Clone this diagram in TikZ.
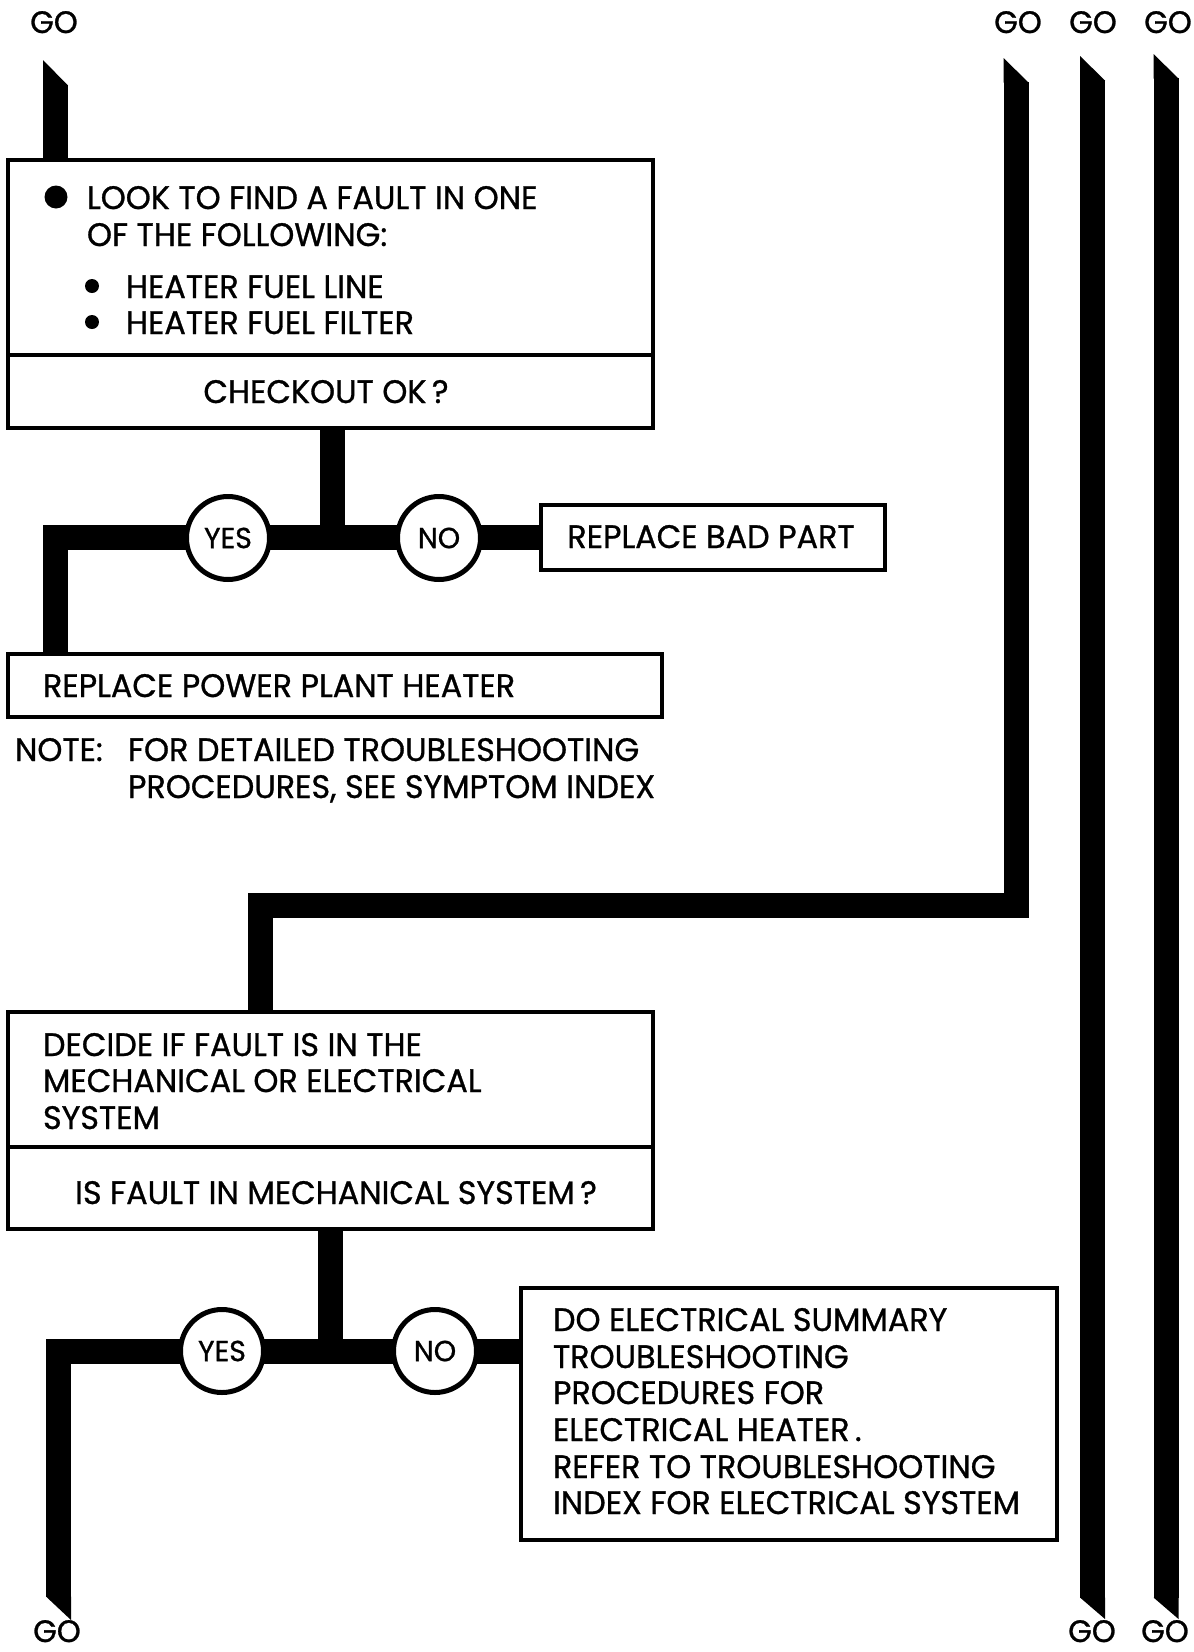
\documentclass[tikz,border=0pt]{standalone}
\usepackage{fontspec}
\setmainfont{Poppins}[FakeStretch=0.98, FakeBold=0.9]
\begin{document}
\begin{tikzpicture}[x=1pt,y=-1pt,
  every node/.style={inner sep=0pt, outer sep=0pt, font=\fontsize{32.5}{36}\selectfont},
  conn/.style={line width=25pt, line join=miter},
  box/.style={draw, line width=3.5pt, rectangle, fill=white},
  circ/.style={draw, circle, line width=5pt, fill=white, minimum size=83pt, font=\fontsize{29}{30}\selectfont},
  txt/.style={anchor=base west},
  golabel/.style={font=\fontsize{31}{32}\selectfont, anchor=base}]
\useasboundingbox (0,0) rectangle (1194,1652);

% GO labels
\node[golabel] (go1) at (54,33) {GO};
\node[golabel] (go2) at (1018,33) {GO};
\node[golabel] (go3) at (1093,33) {GO};
\node[golabel] (go4) at (1168,33) {GO};
\node[golabel] (go5) at (57,1642) {GO};
\node[golabel] (go6) at (1092,1642) {GO};
\node[golabel] (go7) at (1165,1642) {GO};

% boxes
\node[box, minimum width=645, minimum height=268] (b1) at (330.5,294) {};
\node[box, minimum width=344, minimum height=65] (bad) at (713,537.5) {};
\node[box, minimum width=654, minimum height=63] (rph) at (335,685.5) {};
\node[box, minimum width=645, minimum height=217] (b2) at (330.5,1120.5) {};
\node[box, minimum width=536, minimum height=252] (elec) at (789,1414) {};

% coordinates
\coordinate (g1) at (55.5,85);
\coordinate (j1) at (332,537.5);
\coordinate (c1) at (55,537.5);
\coordinate (g2) at (1016,82);
\coordinate (r1) at (1016,905);
\coordinate (r2) at (260,905);
\coordinate (j2) at (330,1351);
\coordinate (c2) at (58.5,1351);
\coordinate (e1) at (58.5,1597);
\coordinate (g3) at (1092.5,80);
\coordinate (e3) at (1092.5,1598);
\coordinate (g4) at (1166,78);
\coordinate (e4) at (1166,1598);

% connectors
\draw[conn] (g1) -- (g1 |- b1.north);
\fill (g1) ++(-12.5,0.5) -- ++(0,-25.5) -- ++(25,25.5) -- cycle;
\draw[conn] (b1.south -| j1) -- (j1);
\draw[conn] (c1 |- rph.north) -- (c1) -- (bad.west);

\draw[conn] (g2) -- (r1) -- (r2) -- (r2 |- b2.north);
\fill (g2) ++(-12.5,0.5) -- ++(0,-24.5) -- ++(25,24.5) -- cycle;

\draw[conn] (b2.south -| j2) -- (j2);
\draw[conn] (elec.west |- c2) -- (c2) -- (e1);
\fill (e1) ++(-12.5,-0.5) -- ++(25,0) -- ++(0,23.5) -- cycle;

\draw[conn] (g3) -- (e3);
\fill (g3) ++(-12.5,0.5) -- ++(0,-24.5) -- ++(25,24.5) -- cycle;
\fill (e3) ++(-12.5,-0.5) -- ++(25,0) -- ++(0,21.5) -- cycle;
\draw[conn] (g4) -- (e4);
\fill (g4) ++(-12.5,0.5) -- ++(0,-24.5) -- ++(25,24.5) -- cycle;
\fill (e4) ++(-12.5,-0.5) -- ++(25,0) -- ++(0,21.5) -- cycle;

% redraw box borders over connectors
\draw[line width=3.5pt] (b1.north west) rectangle (b1.south east);
\draw[line width=3.5pt] (b1.west |- 0,355) -- (b1.east |- 0,355);
\draw[line width=3.5pt] (b2.west |- 0,1147) -- (b2.east |- 0,1147);

% circles
\node[circ] (yes1) at (228,538) {YES};
\node[circ] (no1) at (439,538) {NO};
\node[circ] (yes2) at (222,1351) {YES};
\node[circ] (no2) at (435,1351) {NO};

% box 1 text
\fill (56,197) circle (11.5);
\node[txt] (t1a) at (87,209) {LOOK TO FIND A FAULT IN ONE};
\node[txt] (t1b) at (87,246) {OF THE FOLLOWING:};
\fill (92,286) circle (7);
\fill (92,322) circle (7);
\node[txt] (t1c) at (126,298) {HEATER FUEL LINE};
\node[txt] (t1d) at (126,334) {HEATER FUEL FILTER};
\node[anchor=base] (t1e) at (326,403) {CHECKOUT OK\,?};

\node[anchor=base] (tbad) at (711,548) {REPLACE BAD PART};
\node[txt] (trph) at (43,697) {REPLACE POWER PLANT HEATER};

\node[txt] (tn1) at (15,761) {NOTE:};
\node[txt] (tn2) at (128,761) {FOR DETAILED TROUBLESHOOTING};
\node[txt] (tn3) at (128,798) {PROCEDURES, SEE SYMPTOM INDEX};

% box 2 text
\node[txt] (t2a) at (43,1056) {DECIDE IF FAULT IS IN THE};
\node[txt] (t2b) at (43,1092) {MECHANICAL OR ELECTRICAL};
\node[txt] (t2c) at (43,1129) {SYSTEM};
\node[anchor=base] (t2d) at (336,1204) {IS FAULT IN MECHANICAL SYSTEM\,?};

% electrical box text
\node[txt] (te1) at (553,1331) {DO ELECTRICAL SUMMARY};
\node[txt] (te2) at (553,1368) {TROUBLESHOOTING};
\node[txt] (te3) at (553,1404) {PROCEDURES FOR};
\node[txt] (te4) at (553,1441) {ELECTRICAL HEATER\,.};
\node[txt] (te5) at (553,1478) {REFER TO TROUBLESHOOTING};
\node[txt] (te6) at (553,1514) {INDEX FOR ELECTRICAL SYSTEM};
\end{tikzpicture}
\end{document}
